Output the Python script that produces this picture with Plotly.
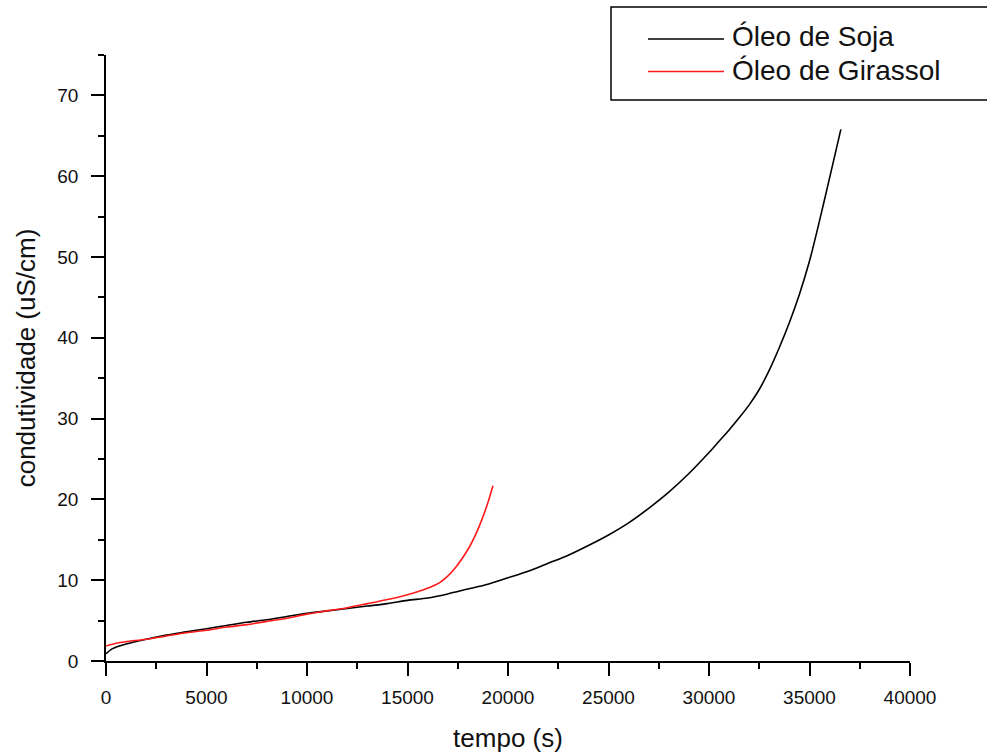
import plotly.graph_objects as go

# Óleo de Soja
soja_t = [0, 300, 1000, 2000, 3000, 4000, 5000, 6000, 7000, 8000, 9000, 10000,
          11000, 12000, 13000, 14000, 15000, 16000, 17000, 18000, 19000, 20000,
          21000, 22000, 23000, 24000, 25000, 26000, 27000, 28000, 29000, 30000,
          30500, 31000, 31500, 32000, 32500, 33000, 33500, 34000, 34500, 35000,
          35500, 36000, 36560]
soja_c = [0.9, 1.5, 2.1, 2.7, 3.2, 3.6, 4.0, 4.4, 4.8, 5.1, 5.5, 5.9,
          6.2, 6.5, 6.8, 7.1, 7.5, 7.8, 8.3, 8.9, 9.5, 10.3,
          11.1, 12.1, 13.1, 14.3, 15.6, 17.1, 18.9, 20.9, 23.2, 25.8,
          27.2, 28.6, 30.1, 31.7, 33.6, 36.0, 38.8, 41.9, 45.4, 49.5,
          54.5, 59.8, 65.8]

# Óleo de Girassol
gir_t = [0, 500, 1000, 2000, 3000, 4000, 5000, 6000, 7000, 8000, 9000, 10000,
         11000, 12000, 13000, 14000, 15000, 16000, 16600, 17000, 17400, 17800,
         18100, 18400, 18700, 19000, 19250]
gir_c = [1.85, 2.2, 2.4, 2.7, 3.1, 3.5, 3.8, 4.2, 4.5, 4.9, 5.3, 5.8,
         6.2, 6.6, 7.1, 7.6, 8.2, 9.0, 9.7, 10.5, 11.6, 13.0,
         14.2, 15.7, 17.5, 19.6, 21.7]

legend_names = ["Óleo de Soja", "Óleo de Girassol"]
x_title = "tempo (s)"
y_title = "condutividade (uS/cm)"

FONT = "Liberation Sans, Arial, sans-serif"
TXT = "#111111"
RED = "#ff1a1a"

fig = go.Figure()
fig.add_trace(go.Scatter(x=soja_t, y=soja_c, mode="lines", name=legend_names[0],
                         line=dict(color="black", width=1.6, shape="spline", smoothing=0.8)))
fig.add_trace(go.Scatter(x=gir_t, y=gir_c, mode="lines", name=legend_names[1],
                         line=dict(color=RED, width=1.6, shape="spline", smoothing=0.8)))

L, R, T, B = 106, 77, 55, 95
W, H = 987, 756
pw, ph = W - L - R, H - T - B

def px(x):
    return (x - L) / pw

def py(y):
    return (H - B - y) / ph

# custom legend
shapes = [
    dict(type="rect", xref="paper", yref="paper", x0=px(611), x1=px(1010),
         y0=py(100), y1=py(7), line=dict(color="black", width=1.5), fillcolor="white"),
    dict(type="line", xref="paper", yref="paper", x0=px(648), x1=px(724),
         y0=py(39), y1=py(39), line=dict(color="black", width=1.6)),
    dict(type="line", xref="paper", yref="paper", x0=px(648), x1=px(724),
         y0=py(71.5), y1=py(71.5), line=dict(color=RED, width=1.6)),
]
annotations = [
    dict(xref="paper", yref="paper", x=px(730), y=py(37), text=legend_names[0],
         showarrow=False, xanchor="left", yanchor="middle",
         font=dict(family=FONT, size=28, color=TXT)),
    dict(xref="paper", yref="paper", x=px(730), y=py(70), text=legend_names[1],
         showarrow=False, xanchor="left", yanchor="middle",
         font=dict(family=FONT, size=28, color=TXT)),
]

fig.update_layout(
    width=W, height=H,
    margin=dict(l=L, r=R, t=T, b=B, autoexpand=False),
    paper_bgcolor="white", plot_bgcolor="white",
    showlegend=False,
    font=dict(family=FONT, color=TXT),
    shapes=shapes, annotations=annotations,
)
fig.update_xaxes(
    range=[0, 40000], dtick=5000, tick0=0, tickformat="d", automargin=False,
    showgrid=False, zeroline=False,
    showline=True, linecolor="black", linewidth=1.5,
    ticks="outside", ticklen=13, tickwidth=1.5, tickcolor="black",
    minor=dict(dtick=2500, ticks="outside", ticklen=6, tickwidth=1.5, tickcolor="black", showgrid=False),
    tickfont=dict(family=FONT, size=19, color=TXT), ticklabelstandoff=5,
    title=dict(text=x_title, font=dict(family=FONT, size=26, color=TXT), standoff=22),
)
fig.update_yaxes(
    range=[0, 75], dtick=10, tick0=0, showgrid=False, zeroline=False, automargin=False,
    showline=True, linecolor="black", linewidth=1.5,
    ticks="outside", ticklen=13, tickwidth=1.5, tickcolor="black",
    minor=dict(dtick=5, ticks="outside", ticklen=6, tickwidth=1.5, tickcolor="black", showgrid=False),
    tickfont=dict(family=FONT, size=19, color=TXT), ticklabelstandoff=9,
    title=dict(text=y_title, font=dict(family=FONT, size=26, color=TXT), standoff=14),
)

fig.write_html("out.html")
